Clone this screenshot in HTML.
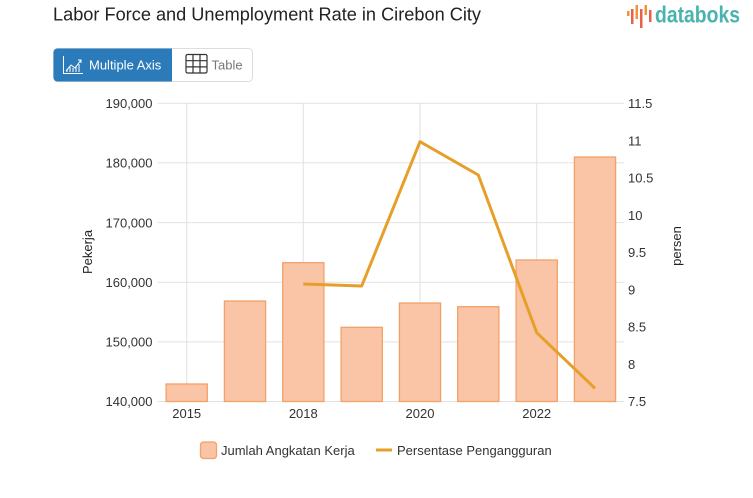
<!DOCTYPE html>
<html><head><meta charset="utf-8"><style>
html,body{margin:0;padding:0;background:#fff;}
body{width:753px;height:498px;overflow:hidden;font-family:"Liberation Sans",sans-serif;}
svg{display:block;}
</style></head><body>
<svg width="753" height="498" viewBox="0 0 753 498" xmlns="http://www.w3.org/2000/svg" font-family="Liberation Sans, sans-serif">
<rect width="753" height="498" fill="#fff"/>
<text x="53" y="20.5" font-size="18" fill="#222" textLength="428" lengthAdjust="spacingAndGlyphs">Labor Force and Unemployment Rate in Cirebon City</text>
<g>
<rect x="627" y="11" width="2.5" height="5" fill="#f0943c"/>
<rect x="631" y="9" width="2.5" height="15" fill="#e8604c"/>
<rect x="635.5" y="5" width="2.5" height="14" fill="#f0943c"/>
<rect x="640" y="9" width="2.5" height="19" fill="#e8604c"/>
<rect x="644.5" y="5" width="2.5" height="10" fill="#f0943c"/>
<rect x="649" y="10" width="2.5" height="12" fill="#e8604c"/>
<text x="655" y="22.5" font-size="23" font-weight="bold" fill="#4bb3ad" textLength="85" lengthAdjust="spacingAndGlyphs">databoks</text>
</g>
<rect x="53.5" y="48.5" width="199" height="33" rx="4" fill="#fff" stroke="#ddd"/>
<path d="M57.5 48.5 H172 V81.5 H57.5 A4 4 0 0 1 53.5 77.5 V52.5 A4 4 0 0 1 57.5 48.5Z" fill="#2b7bba"/>
<g stroke="#fff" fill="none" stroke-width="1">
<path d="M63.5 56 V73.5 H83"/>
<path d="M66 71 L71 65 L75 68 L81 60"/>
<path d="M78 60 H81 V63"/>
<line x1="67" y1="72" x2="67" y2="69"/><line x1="70" y1="72" x2="70" y2="67"/><line x1="73" y1="72" x2="73" y2="68"/><line x1="76" y1="72" x2="76" y2="66"/><line x1="79" y1="72" x2="79" y2="64"/>
</g>
<text x="89" y="69.5" font-size="13" fill="#fff">Multiple Axis</text>
<g stroke="#333" fill="none" stroke-width="1.2">
<rect x="186" y="54.5" width="21" height="18.5" rx="1.5"/>
<line x1="193" y1="54.5" x2="193" y2="73"/><line x1="200" y1="54.5" x2="200" y2="73"/>
<line x1="186" y1="60.7" x2="207" y2="60.7"/><line x1="186" y1="66.9" x2="207" y2="66.9"/>
</g>
<text x="211.5" y="69.5" font-size="13" fill="#777">Table</text>
<g stroke="#e2e2e2" stroke-width="1">
<line x1="157.5" y1="103.3" x2="624" y2="103.3"/>
<line x1="157.5" y1="162.9" x2="624" y2="162.9"/>
<line x1="157.5" y1="222.6" x2="624" y2="222.6"/>
<line x1="157.5" y1="282.2" x2="624" y2="282.2"/>
<line x1="157.5" y1="341.9" x2="624" y2="341.9"/>
<line x1="157.5" y1="401.5" x2="624" y2="401.5"/>
<line x1="186.7" y1="103" x2="186.7" y2="401.5"/>
<line x1="303.3" y1="103" x2="303.3" y2="401.5"/>
<line x1="420" y1="103" x2="420" y2="401.5"/>
<line x1="536.7" y1="103" x2="536.7" y2="401.5"/>
</g>
<g font-size="13" fill="#333" text-anchor="end">
<text x="152.5" y="108">190,000</text>
<text x="152.5" y="167.6">180,000</text>
<text x="152.5" y="227.3">170,000</text>
<text x="152.5" y="286.9">160,000</text>
<text x="152.5" y="346.6">150,000</text>
<text x="152.5" y="406.2">140,000</text>
</g>
<g font-size="13" fill="#333">
<text x="628" y="108">11.5</text>
<text x="628" y="145.3">11</text>
<text x="628" y="182.5">10.5</text>
<text x="628" y="219.8">10</text>
<text x="628" y="257.1">9.5</text>
<text x="628" y="294.4">9</text>
<text x="628" y="331.7">8.5</text>
<text x="628" y="368.9">8</text>
<text x="628" y="406.2">7.5</text>
</g>
<g font-size="13" fill="#333" text-anchor="middle">
<text x="186.7" y="418">2015</text>
<text x="303.3" y="418">2018</text>
<text x="420" y="418">2020</text>
<text x="536.7" y="418">2022</text>
</g>
<text transform="translate(92,252) rotate(-90)" font-size="13" fill="#222" text-anchor="middle">Pekerja</text>
<text transform="translate(681,246) rotate(-90)" font-size="13" fill="#222" text-anchor="middle">persen</text>
<g fill="#f9c5a6" stroke="#f4a06a" stroke-width="1.3">
<rect x="166.1" y="384" width="41.2" height="17.5"/>
<rect x="224.4" y="301" width="41.2" height="100.5"/>
<rect x="282.7" y="262.7" width="41.2" height="138.8"/>
<rect x="341.1" y="327.3" width="41.2" height="74.2"/>
<rect x="399.4" y="303" width="41.2" height="98.5"/>
<rect x="457.7" y="306.7" width="41.2" height="94.8"/>
<rect x="516.1" y="260" width="41.2" height="141.5"/>
<rect x="574.4" y="157" width="41.2" height="244.5"/>
</g>
<polyline points="303.3,284 361.7,286 420,141.7 478.3,175 536.7,332.7 595,388.3" fill="none" stroke="#e6a02a" stroke-width="3" stroke-linejoin="round"/>
<rect x="200.5" y="442" width="16" height="16.5" rx="3" fill="#f9c5a6" stroke="#f4a06a" stroke-width="1.3"/>
<text x="221" y="455" font-size="13" fill="#333">Jumlah Angkatan Kerja</text>
<line x1="376" y1="450" x2="392" y2="450" stroke="#e6a02a" stroke-width="3"/>
<text x="397" y="455" font-size="13" fill="#333">Persentase Pengangguran</text>
</svg>
</body></html>
